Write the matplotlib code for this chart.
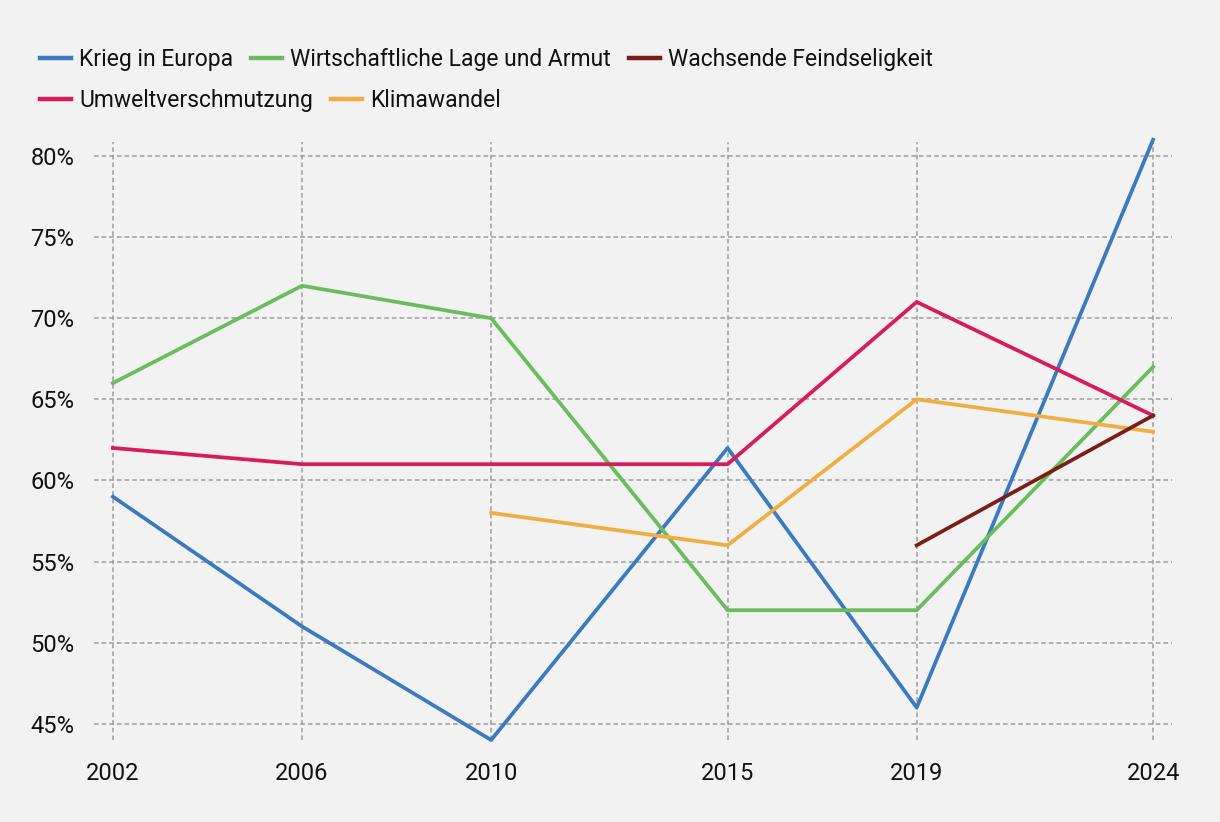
import numpy as np
import matplotlib.pyplot as plt
from matplotlib.ticker import FuncFormatter

years = [2002, 2006, 2010, 2015, 2019, 2024]

krieg = [59, 51, 44, 62, 46, 81]
wirtschaft = [66, 72, 70, 52, 52, 67]
umwelt = [62, 61, 61, 61, 71, 64]
klima_years = [2010, 2015, 2019, 2024]
klima = [58, 56, 65, 63]
feind_years = [2019, 2024]
feind = [56, 64]

labels_row1 = ["Krieg in Europa", "Wirtschaftliche Lage und Armut", "Wachsende Feindseligkeit"]
labels_row2 = ["Umweltverschmutzung", "Klimawandel"]

c_krieg = "#3a7abf"
c_wirt = "#6abd5d"
c_feind = "#7a1e17"
c_umwelt = "#d81b5b"
c_klima = "#f0ae40"

plt.rcParams["font.family"] = ["Roboto", "DejaVu Sans"]
bg = "#f2f2f2"

fig = plt.figure(figsize=(12.2, 8.22), dpi=100, facecolor=bg)
ax = fig.add_axes([94 / 1220, 1 - 740 / 822, (1172 - 94) / 1220, (740 - 142) / 822])
ax.set_facecolor(bg)

lw = 2.7
l1, = ax.plot(years, krieg, color=c_krieg, lw=lw, clip_on=False, zorder=3)
l2, = ax.plot(years, wirtschaft, color=c_wirt, lw=lw, clip_on=False, zorder=3)
l4, = ax.plot(years, umwelt, color=c_umwelt, lw=lw, clip_on=False, zorder=3)
l5, = ax.plot(klima_years, klima, color=c_klima, lw=lw, clip_on=False, zorder=3)
l3, = ax.plot(feind_years, feind, color=c_feind, lw=lw, clip_on=False, zorder=3)

ax.set_xlim(2001.6, 2024.4)
ax.set_ylim(44, 80.86)
ax.set_xticks(years)
ax.set_yticks(np.arange(45, 81, 5))
ax.yaxis.set_major_formatter(FuncFormatter(lambda v, p: f"{v:.0f}%"))

ax.grid(True, color="#9c9c9c", linestyle=(0, (3, 2)), linewidth=1.1)
ax.set_axisbelow(True)
for s in ax.spines.values():
    s.set_visible(False)
ax.tick_params(length=0, labelsize=17, colors="#111111")
ax.tick_params(axis="x", pad=16)
ax.tick_params(axis="y", pad=14)

leg_kw = dict(loc="upper left", frameon=False, fontsize=16.5, handlelength=1.35,
              handletextpad=0.35, columnspacing=0.8, borderaxespad=0, borderpad=0)
leg1 = fig.legend([l1, l2, l3], labels_row1, ncol=3,
                  bbox_to_anchor=(40 / 1220, 1 - 48 / 822), **leg_kw)
leg2 = fig.legend([l4, l5], labels_row2, ncol=2,
                  bbox_to_anchor=(40 / 1220, 1 - 89 / 822), **leg_kw)
for leg in (leg1, leg2):
    for h in leg.get_lines():
        h.set_linewidth(3.2)
    for t in leg.get_texts():
        t.set_color("#111111")

fig.savefig("out.png", dpi=100, facecolor=bg)
